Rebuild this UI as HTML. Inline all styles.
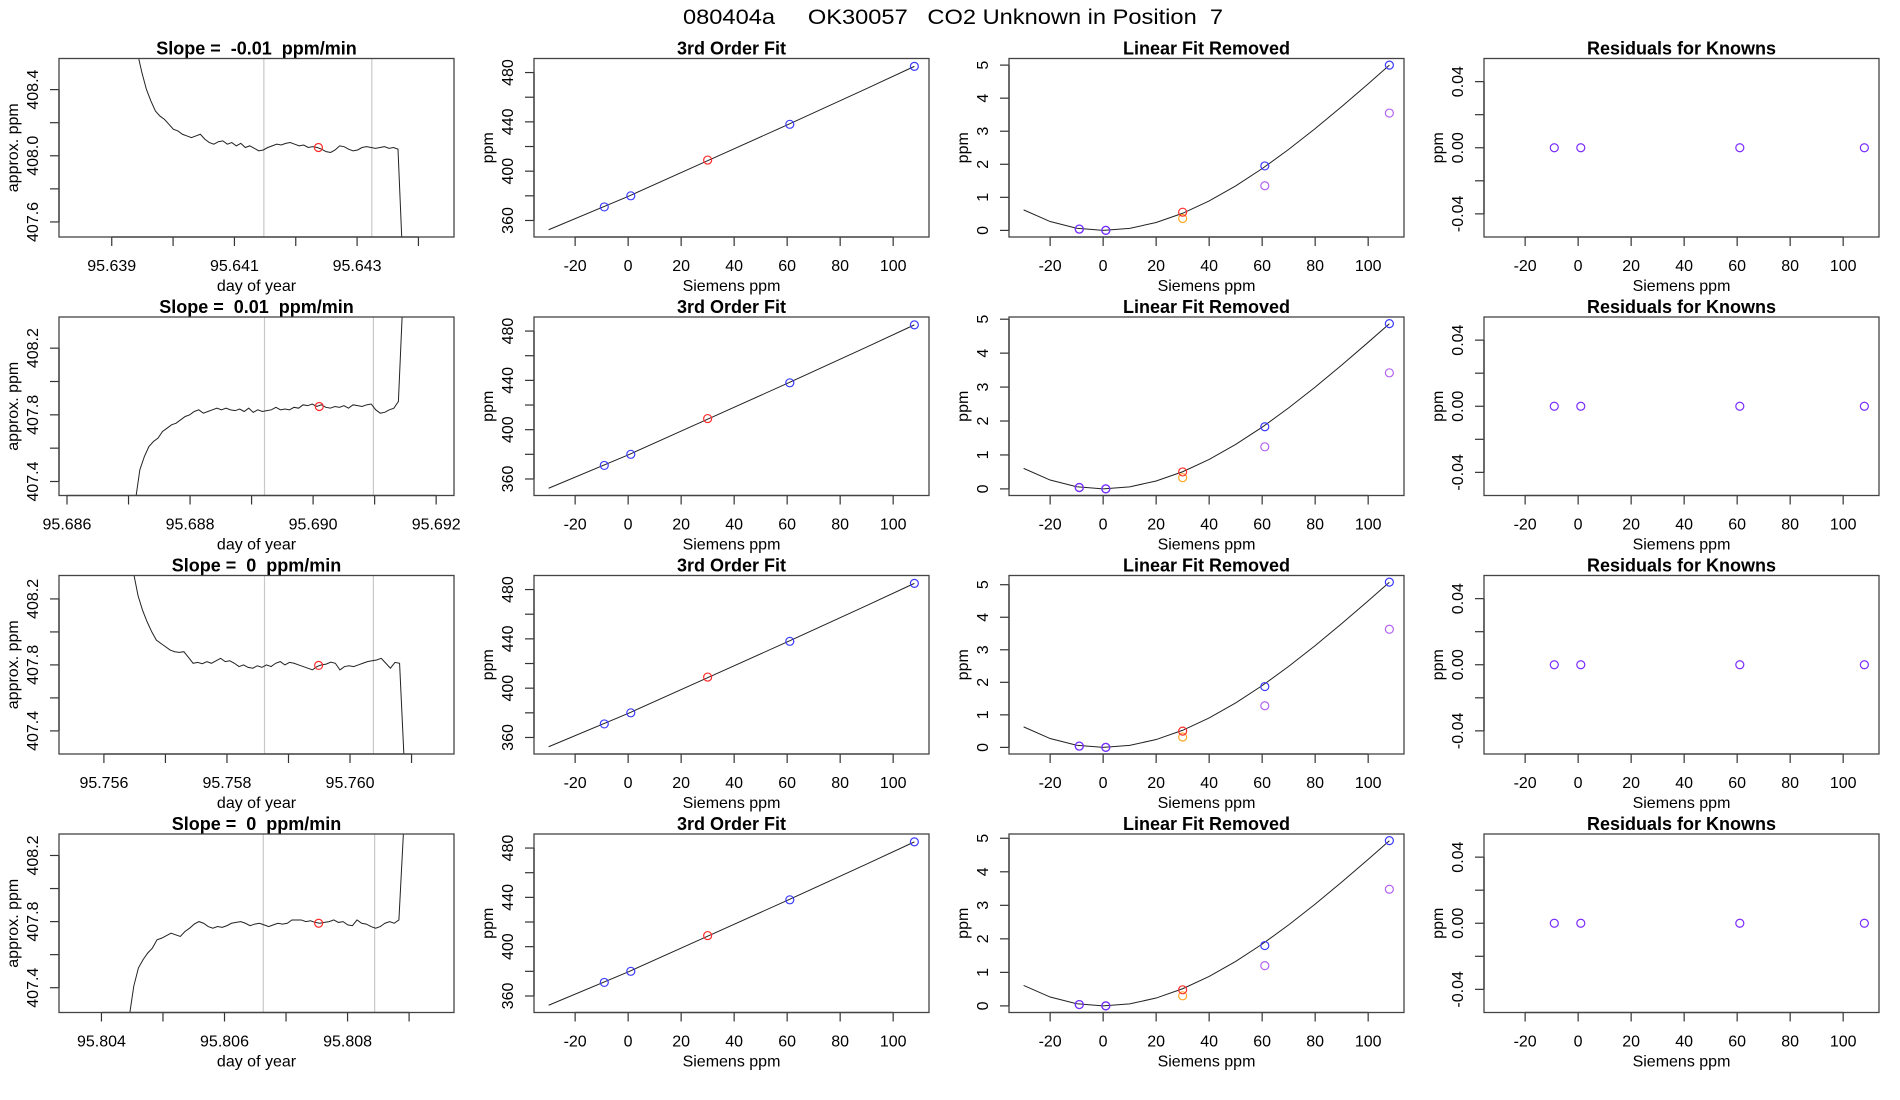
<!DOCTYPE html>
<html><head><meta charset="utf-8"><title>080404a OK30057 CO2 Unknown in Position 7</title>
<style>
html,body{margin:0;padding:0;background:#fff;}
svg{display:block;font-family:"Liberation Sans",Arial,sans-serif;}
</style></head>
<body>
<svg id="fig" width="1900" height="1100" viewBox="0 0 1900 1100" xmlns="http://www.w3.org/2000/svg">
<rect width="1900" height="1100" fill="#fff"/>
<text x="683" y="24" font-size="21" textLength="540" lengthAdjust="spacingAndGlyphs" style="white-space:pre" xml:space="preserve">080404a     OK30057   CO2 Unknown in Position  7</text>
</svg>
<script>
// ---------- column 1: time traces ----------
const slopeLabels = ["-0.01", "0.01", "0", "0"];
const traceStart = [95.63942, 95.68711, 95.75648, 95.80445];
const traceEnd = [95.64374, 95.69146, 95.76088, 95.80891];
const trace1 = [408.62,408.50,408.40,408.33,408.27,408.24,408.22,408.19,408.16,408.15,408.13,408.12,408.11,408.12,408.13,408.10,408.08,408.07,408.085,408.09,408.07,408.08,408.06,408.075,408.05,408.06,408.045,408.03,408.035,408.05,408.06,408.07,408.065,408.075,408.08,408.07,408.06,408.065,408.05,408.055,408.05,408.04,408.025,408.02,408.035,408.06,408.055,408.04,408.03,408.035,408.05,408.055,408.05,408.045,408.05,408.055,408.045,408.05,408.04,407.40];
const trace2 = [407.28,407.47,407.55,407.61,407.64,407.66,407.70,407.72,407.74,407.75,407.77,407.79,407.80,407.82,407.83,407.81,407.82,407.83,407.84,407.83,407.84,407.83,407.825,407.835,407.82,407.84,407.815,407.83,407.82,407.825,407.83,407.845,407.83,407.835,407.83,407.845,407.84,407.86,407.855,407.865,407.85,407.86,407.845,407.84,407.85,407.845,407.855,407.84,407.86,407.855,407.85,407.86,407.865,407.83,407.81,407.815,407.83,407.84,407.88,408.50];
const trace3 = [408.36,408.22,408.13,408.06,408.00,407.95,407.93,407.91,407.89,407.88,407.876,407.88,407.845,407.81,407.815,407.807,407.82,407.81,407.825,407.84,407.82,407.825,407.81,407.79,407.80,407.785,407.78,407.795,407.785,407.80,407.79,407.81,407.82,407.80,407.815,407.81,407.80,407.79,407.78,407.77,407.79,407.80,407.805,407.817,407.81,407.77,407.79,407.795,407.79,407.80,407.81,407.82,407.825,407.83,407.84,407.81,407.78,407.815,407.81,407.22];
const trace4 = [407.22,407.41,407.52,407.57,407.61,407.64,407.69,407.70,407.715,407.73,407.72,407.71,407.74,407.76,407.785,407.80,407.79,407.77,407.76,407.77,407.765,407.775,407.79,407.795,407.80,407.79,407.775,407.785,407.79,407.78,407.77,407.78,407.79,407.785,407.79,407.81,407.81,407.81,407.80,407.805,407.795,407.79,407.795,407.80,407.81,407.795,407.80,407.78,407.775,407.81,407.79,407.785,407.77,407.76,407.77,407.79,407.80,407.79,407.81,408.35];
const traces = [trace1, trace2, trace3, trace4];
const timeMin = [95.63814, 95.68587, 95.75527, 95.80331];
const timeMax = [95.64458, 95.69229, 95.76169, 95.80973];
const concMin = [407.509, 407.316, 407.26, 407.25];
const concMax = [408.588, 408.387, 408.342, 408.33];
const windowStart = [95.64148, 95.68921, 95.75861, 95.80663];
const windowEnd = [95.64324, 95.69098, 95.76038, 95.80844];
const meanTime = [95.64237, 95.69010, 95.75949, 95.80753];
const meanConc = [408.05, 407.85, 407.797, 407.79];
const timeTicks1 = [95.639, 95.640, 95.641, 95.642, 95.643, 95.644];
const timeTicks2 = [95.686, 95.687, 95.688, 95.689, 95.690, 95.691, 95.692];
const timeTicks3 = [95.756, 95.757, 95.758, 95.759, 95.760, 95.761];
const timeTicks4 = [95.804, 95.805, 95.806, 95.807, 95.808, 95.809];
const timeTicks = [timeTicks1, timeTicks2, timeTicks3, timeTicks4];
const timeLabels = [["95.639","95.641","95.643"],["95.686","95.688","95.690","95.692"],["95.756","95.758","95.760"],["95.804","95.806","95.808"]];
const concTicks1 = [407.6, 407.8, 408.0, 408.2, 408.4];
const concTicksB = [407.4, 407.6, 407.8, 408.0, 408.2];
const concTicks = [concTicks1, concTicksB, concTicksB, concTicksB];
const concLabels = [["407.6","408.0","408.4"],["407.4","407.8","408.2"],["407.4","407.8","408.2"],["407.4","407.8","408.2"]];

// ---------- column 2: 3rd order fit ----------
const stdX = [-9, 1, 61, 108];
const stdY = [371, 380, 438, 485];
const unkX = 30;
const unkY = 409;
const fitX = [-30, 0, 30, 60, 90, 108];
const fitY = [352.5, 379.5, 408.5, 437.5, 467, 485];
const ppmTicks = [360, 380, 400, 420, 440, 460, 480];
const ppmLabels = ["360", "400", "440", "480"];
const siemensTicks = [-20, 0, 20, 40, 60, 80, 100];

// ---------- column 3: linear fit removed ----------
const curveX = [-30,-20,-10,0,10,20,30,40,50,60,70,80,90,100,108];
const curve1 = [0.62,0.268,0.065,0,0.061,0.238,0.518,0.891,1.344,1.868,2.450,3.079,3.744,4.434,5.0];
const curve2 = [0.604,0.261,0.063,0,0.060,0.232,0.505,0.868,1.309,1.819,2.386,2.999,3.647,4.319,4.866];
const curve3 = [0.630,0.272,0.066,0,0.062,0.241,0.526,0.905,1.366,1.898,2.489,3.128,3.804,4.505,5.076];
const curve4 = [0.611,0.264,0.064,0,0.060,0.234,0.511,0.879,1.325,1.842,2.416,3.036,3.692,4.372,4.926];
const curves = [curve1, curve2, curve3, curve4];
const knownBlue = [[0.04,0,1.95,5.0],[0.04,0,1.83,4.87],[0.04,0,1.87,5.08],[0.04,0,1.80,4.93]];
const knownViolet = [[0.04,0,1.35,3.55],[0.04,0,1.24,3.42],[0.04,0,1.28,3.63],[0.04,0,1.20,3.48]];
const unkRed = [0.55, 0.50, 0.50, 0.48];
const unkOrange = [0.36, 0.33, 0.32, 0.30];
const residTicks = [0, 1, 2, 3, 4, 5];

// ---------- column 4: residuals ----------
const residuals = [[0,0,0,0],[0,0,0,0],[0,0,0,0],[0,0,0,0]];
const knownResidTicks = [-0.04, -0.02, 0, 0.02, 0.04];
const knownResidLabels = ["-0.04", "0.00", "0.04"];

// ---------- drawing ----------
const NS = "http://www.w3.org/2000/svg";
const svg = document.getElementById("fig");
function mk(parent, tag, attrs, text) {
  const e = document.createElementNS(NS, tag);
  for (const k in attrs) e.setAttribute(k, attrs[k]);
  if (text !== undefined) e.textContent = text;
  parent.appendChild(e);
  return e;
}
function lin(d0, d1, r0, r1) { return v => r0 + (v - d0) * (r1 - r0) / (d1 - d0); }

const COLW = 475, BOXL = 59, BOXR = 454, TOP0 = 58.5, PITCH = 258.5, BOXH = 178.5;
const BLUE = "#3a3aff", VIOLET = "#b462f2", RED = "#ff2a2a", ORANGE = "#ffa726", PURPLE = "#7b2cff";

function panel(r, c, title, xlab, ylab) {
  const g = mk(svg, "g", {});
  
  
  const x0 = c * COLW + BOXL, x1 = c * COLW + BOXR;
  const y0 = TOP0 + r * PITCH, y1 = y0 + BOXH;
  const clipId = "clip" + r + c;
  const cp = mk(g, "clipPath", { id: clipId });
  mk(cp, "rect", { x: x0, y: y0, width: x1 - x0, height: y1 - y0 });
  const t = mk(g, "text", { x: (x0 + x1) / 2, y: y0 - 4, "font-size": 18, "font-weight": "bold", "text-anchor": "middle", "xml:space": "preserve", style: "white-space:pre" }, title);
  
  
  const xl = mk(g, "text", { x: (x0 + x1) / 2, y: y1 + 54, "font-size": 16, "text-anchor": "middle" }, xlab);
  
  
  const yl = mk(g, "text", { x: 0, y: 0, "font-size": 16, "text-anchor": "middle", transform: "translate(" + (x0 - 41) + "," + ((y0 + y1) / 2) + ") rotate(-90)" }, ylab);
  
  
  return { g, x0, x1, y0, y1, clip: "url(#" + clipId + ")" };
}
function frame(p) {
  const b = mk(p.g, "rect", { x: p.x0, y: p.y0, width: p.x1 - p.x0, height: p.y1 - p.y0, fill: "none", stroke: "#444", "stroke-width": 1.3 });
  
  
}
function xAxis(p, sx, ticks, labels, labelVals) {
  const ax = mk(p.g, "g", {});
  
  
  const a = sx(ticks[0]), b = sx(ticks[ticks.length - 1]);
  mk(ax, "line", { x1: a, x2: b, y1: p.y1, y2: p.y1, stroke: "#000", "stroke-width": 1.3 });
  ticks.forEach(v => mk(ax, "line", { x1: sx(v), x2: sx(v), y1: p.y1, y2: p.y1 + 9, stroke: "#333", "stroke-width": 1.2 }));
  labels.forEach((s, i) => {
    const tl = mk(ax, "text", { x: sx(labelVals[i]), y: p.y1 + 34, "font-size": 16, "text-anchor": "middle" }, s);
    
    
  });
}
function yAxis(p, sy, ticks, labels, labelVals) {
  const ax = mk(p.g, "g", {});
  
  
  mk(ax, "line", { x1: p.x0, x2: p.x0, y1: sy(ticks[0]), y2: sy(ticks[ticks.length - 1]), stroke: "#000", "stroke-width": 1.3 });
  ticks.forEach(v => mk(ax, "line", { x1: p.x0, x2: p.x0 - 9, y1: sy(v), y2: sy(v), stroke: "#333", "stroke-width": 1.2 }));
  labels.forEach((s, i) => {
    const tl = mk(ax, "text", { x: 0, y: 0, "font-size": 16, "text-anchor": "middle", transform: "translate(" + (p.x0 - 21) + "," + sy(labelVals[i]) + ") rotate(-90)" }, s);
    
    
  });
}
function circle(p, x, y, color, name) {
  const c = mk(p.g, "circle", { cx: x, cy: y, r: 4, fill: "none", stroke: color, "stroke-width": 1.2 });
  
  
}
function pathFrom(xs, ys, sx, sy) {
  return xs.map((x, i) => (i ? "L" : "M") + sx(x).toFixed(2) + "," + sy(ys[i]).toFixed(2)).join("");
}

const sieMin = -35.52, sieMax = 113.52;

for (let r = 0; r < 4; r++) {
  {
    const p = panel(r, 0, "Slope =  " + slopeLabels[r] + "  ppm/min", "day of year", "approx. ppm");
    const sx = lin(timeMin[r], timeMax[r], p.x0, p.x1);
    const sy = lin(concMin[r], concMax[r], p.y1, p.y0);
    [windowStart[r], windowEnd[r]].forEach(v => {
      const l = mk(p.g, "line", { x1: sx(v), x2: sx(v), y1: p.y0, y2: p.y1, stroke: "#c8c8c8", "stroke-width": 1.2 });
      
      
    });
    const vals = traces[r];
    const n = vals.length;
    const ts = vals.map((v, i) => traceStart[r] + (traceEnd[r] - traceStart[r]) * i / (n - 1));
    const tr = mk(p.g, "path", { d: pathFrom(ts, vals, sx, sy), fill: "none", stroke: "#222", "stroke-width": 1, "clip-path": p.clip });
    
    
    circle(p, sx(meanTime[r]), sy(meanConc[r]), RED, "mean-point");
    xAxis(p, sx, timeTicks[r], timeLabels[r], timeLabels[r].map(Number));
    yAxis(p, sy, concTicks[r], concLabels[r], concLabels[r].map(Number));
    frame(p);
  }
  {
    const p = panel(r, 1, "3rd Order Fit", "Siemens ppm", "ppm");
    const sx = lin(sieMin, sieMax, p.x0, p.x1);
    const sy = lin(346.6, 491.4, p.y1, p.y0);
    const f = mk(p.g, "path", { d: pathFrom(fitX, fitY, sx, sy), fill: "none", stroke: "#222", "stroke-width": 1 });
    
    
    stdX.forEach((x, i) => circle(p, sx(x), sy(stdY[i]), BLUE, "standard-point"));
    circle(p, sx(unkX), sy(unkY), RED, "unknown-point");
    xAxis(p, sx, siemensTicks, siemensTicks.map(String), siemensTicks);
    yAxis(p, sy, ppmTicks, ppmLabels, ppmLabels.map(Number));
    frame(p);
  }
  {
    const p = panel(r, 2, "Linear Fit Removed", "Siemens ppm", "ppm");
    const sx = lin(sieMin, sieMax, p.x0, p.x1);
    const all = curves[r].concat(knownBlue[r]);
    const lo = Math.min(...all), hi = Math.max(...all), pad = (hi - lo) * 0.04;
    const sy = lin(lo - pad, hi + pad, p.y1, p.y0);
    const cv = mk(p.g, "path", { d: pathFrom(curveX, curves[r], sx, sy), fill: "none", stroke: "#222", "stroke-width": 1 });
    
    
    stdX.forEach((x, i) => circle(p, sx(x), sy(knownBlue[r][i]), BLUE, "known-point"));
    stdX.forEach((x, i) => circle(p, sx(x), sy(knownViolet[r][i]), i < 2 ? PURPLE : VIOLET, "known-point-alt"));
    circle(p, sx(unkX), sy(unkOrange[r]), ORANGE, "unknown-point-alt");
    circle(p, sx(unkX), sy(unkRed[r]), RED, "unknown-point");
    xAxis(p, sx, siemensTicks, siemensTicks.map(String), siemensTicks);
    yAxis(p, sy, residTicks, residTicks.map(String), residTicks);
    frame(p);
  }
  {
    const p = panel(r, 3, "Residuals for Knowns", "Siemens ppm", "ppm");
    const sx = lin(sieMin, sieMax, p.x0, p.x1);
    const sy = lin(-0.054, 0.054, p.y1, p.y0);
    stdX.forEach((x, i) => circle(p, sx(x), sy(residuals[r][i]), PURPLE, "residual-point"));
    xAxis(p, sx, siemensTicks, siemensTicks.map(String), siemensTicks);
    yAxis(p, sy, knownResidTicks, knownResidLabels, knownResidLabels.map(Number));
    frame(p);
  }
}
</script>
</body></html>
